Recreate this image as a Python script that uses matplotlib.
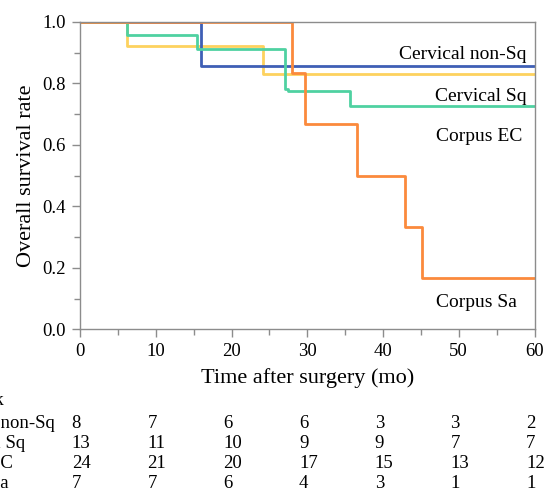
import numpy as np
import matplotlib.pyplot as plt
from matplotlib.ticker import MultipleLocator
import matplotlib.transforms as mtransforms

plt.rcParams['font.family'] = ['Liberation Serif', 'DejaVu Serif']
plt.rcParams['font.size'] = 14

# Kaplan-Meier steps (months, survival)
t_nonsq = [0, 16.0, 60]
s_nonsq = [1.0, 0.857, 0.857]
t_sq = [0, 6.2, 24.2, 60]
s_sq = [1.0, 0.923, 0.831, 0.831]
t_ec = [0, 6.2, 15.4, 27.1, 27.4, 35.6, 60]
s_ec = [1.0, 0.958, 0.911, 0.781, 0.775, 0.727, 0.727]
t_sa = [0, 28.0, 29.7, 36.6, 42.9, 45.2, 60]
s_sa = [1.0, 0.833, 0.667, 0.5, 0.333, 0.167, 0.167]

groups = ['Cervical non-Sq', 'Cervical Sq', 'Corpus EC', 'Corpus Sa']
risk_times = [0, 10, 20, 30, 40, 50, 60]
risk_nonsq = [8, 7, 6, 6, 3, 3, 2]
risk_sq = [13, 11, 10, 9, 9, 7, 7]
risk_ec = [24, 21, 20, 17, 15, 13, 12]
risk_sa = [7, 7, 6, 4, 3, 1, 1]

W, H = 546, 492
fig = plt.figure(figsize=(W / 100, H / 100), dpi=100)
ax = fig.add_axes([80 / W, 1 - 329.3 / H, 454.5 / W, 307.3 / H])

lw = 2.0
ax.step(t_sq, s_sq, where='post', color='#fdd25e', lw=lw)
ax.step(t_nonsq, s_nonsq, where='post', color='#3f5fb5', lw=lw)
ax.step(t_ec, s_ec, where='post', color='#4fd1a1', lw=lw)
ax.step(t_sa, s_sa, where='post', color='#fb8a3c', lw=lw)

ax.set_xlim(0, 60)
ax.set_ylim(0, 1.0)
ax.xaxis.set_major_locator(MultipleLocator(10))
ax.xaxis.set_minor_locator(MultipleLocator(5))
ax.yaxis.set_major_locator(MultipleLocator(0.2))
ax.yaxis.set_minor_locator(MultipleLocator(0.1))
ax.yaxis.set_major_formatter(plt.FormatStrFormatter('%.1f'))
gray = '#8c8c8c'
for sp in ax.spines.values():
    sp.set_color(gray)
    sp.set_linewidth(1.0)
ax.tick_params(which='major', direction='out', length=6, width=1, color=gray, pad=4, labelsize=13.5)
ax.tick_params(which='minor', direction='out', length=4, width=1, color=gray)
ax.set_xlabel('Time after surgery (mo)', fontsize=16)
ax.set_ylabel('Overall survival rate', fontsize=16)
ax.xaxis.set_label_coords(0.5, -0.125)
ax.yaxis.set_label_coords(-0.096, 0.5)

# curve labels
ax.text(58.9, 0.893, 'Cervical non-Sq', ha='right', va='center')
ax.text(58.9, 0.757, 'Cervical Sq', ha='right', va='center')
ax.text(58.4, 0.627, 'Corpus EC', ha='right', va='center')
ax.text(57.7, 0.087, 'Corpus Sa', ha='right', va='center')

# number at risk table
fs = 13.5
fig.text(3.3 / W, 1 - 405 / H, 'Number at risk', ha='right', va='baseline', fontsize=fs)
label_right = [54.3, 25.0, 13.3, 8.7]
row_base = [428, 448, 468, 488]
trans = mtransforms.blended_transform_factory(ax.transData, fig.transFigure)
for name, xr, yb, counts in zip(groups, label_right, row_base,
                                [risk_nonsq, risk_sq, risk_ec, risk_sa]):
    fig.text(xr / W, 1 - yb / H, name, ha='right', va='baseline', fontsize=fs)
    for t, n in zip(risk_times, counts):
        ax.text(t - 1.1, 1 - yb / H, str(n), transform=trans, ha='left', va='baseline',
                fontsize=fs, clip_on=False)

fig.savefig('out.png', dpi=100)
